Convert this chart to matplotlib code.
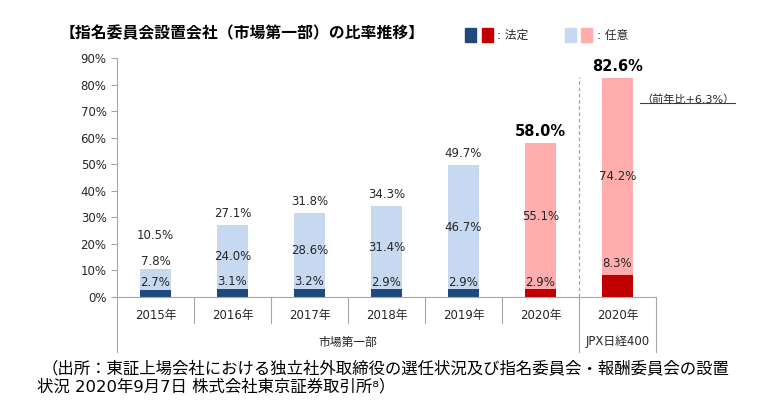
import matplotlib
matplotlib.use('Agg')
import matplotlib.pyplot as plt
from matplotlib.patches import Rectangle
from matplotlib.lines import Line2D
from matplotlib.transforms import blended_transform_factory

plt.rcParams['font.family'] = ['DejaVu Sans', 'Noto Sans CJK JP']

# data
years = ['2015年', '2016年', '2017年', '2018年', '2019年', '2020年', '2020年']
groups = ['市場第一部', 'JPX日経400']
legal = [2.7, 3.1, 3.2, 2.9, 2.9, 2.9, 8.3]
voluntary = [7.8, 24.0, 28.6, 31.4, 46.7, 55.1, 74.2]
totals = [10.5, 27.1, 31.8, 34.3, 49.7, 58.0, 82.6]
yticks = [0, 10, 20, 30, 40, 50, 60, 70, 80, 90]

navy = '#1f497d'
red = '#c00000'
lblue = '#c6d9f1'
pink = '#ffadad'
txt = '#262626'
grid = '#a6a6a6'

legal_cols = [navy] * 5 + [red] * 2
vol_cols = [lblue] * 5 + [pink] * 2

W, H = 777, 412
fig = plt.figure(figsize=(W / 100, H / 100), dpi=100)
ax = fig.add_axes([117 / W, 1 - 297 / H, 539 / W, 239 / H])

x = list(range(len(years)))
ax.bar(x, legal, width=0.40, color=legal_cols, zorder=2)
ax.bar(x, voluntary, width=0.40, bottom=legal, color=vol_cols, zorder=2)

ax.set_xlim(-0.5, 6.5)
ax.set_ylim(0, 90)
ax.set_yticks(yticks)
ax.set_yticklabels([f'{v}%' for v in yticks], fontsize=8.5, color=txt)
ax.set_xticks([])
ax.tick_params(axis='y', length=4, color=grid, width=0.8)
for s in ['top', 'right']:
    ax.spines[s].set_visible(False)
ax.spines['left'].set_color(grid)
ax.spines['bottom'].set_color(grid)
ax.spines['bottom'].set_bounds(-0.55, 6.5)

# value labels
for i in x:
    # legal part
    ly = legal[i] + (4.5 if i == 6 else 2.6)
    ax.text(i, ly, f'{legal[i]:.1f}%', ha='center', va='center',
            fontsize=8.5, color=txt, zorder=3)
    # voluntary part
    vy = 13.2 if i == 0 else legal[i] + voluntary[i] / 2
    ax.text(i, vy, f'{voluntary[i]:.1f}%', ha='center', va='center',
            fontsize=8.5, color=txt, zorder=3)
    # total
    ty = 23.0 if i == 0 else totals[i] + 4.2
    big = i >= 5
    ax.text(i, ty, f'{totals[i]:.1f}%', ha='center', va='center',
            fontsize=10.5 if big else 8.5,
            fontweight='bold' if big else 'normal', color='black' if big else txt)

# dashed separator between groups
ax.plot([5.5, 5.5], [0, 82.8], color=grid, lw=0.9, ls=(0, (3, 2)), zorder=1)

# year-over-year note
ax.text(6.92, 74.5, '（前年比+6.3%）', ha='center', va='center', fontsize=8, color=txt)
ax.plot([6.29, 7.52], [73.1, 73.1], color='#404040', lw=0.8, clip_on=False)

# category table below the axis
tr = blended_transform_factory(ax.transData, fig.transFigure)
y0 = 1 - 297 / H
y_short = 1 - 323 / H
y_long = 1 - 352 / H
for b in [0.5, 1.5, 2.5, 3.5, 4.5]:
    fig.add_artist(Line2D([b, b], [y0, y_short], transform=tr, color=grid, lw=0.8))
for b in [-0.5, 5.5, 6.5]:
    fig.add_artist(Line2D([b, b], [y0, y_long], transform=tr, color=grid, lw=0.8))
for i, yl in enumerate(years):
    fig.text(i, 1 - 315 / H, yl, transform=tr, ha='center', va='center',
             fontsize=8.5, color=txt)
fig.text(2.5, 1 - 342 / H, groups[0], transform=tr, ha='center', va='center',
         fontsize=8.5, color=txt)
fig.text(6, 1 - 342 / H, groups[1], transform=tr, ha='center', va='center',
         fontsize=8.5, color=txt)

# title
fig.text(60 / W, 1 - 33 / H, '【指名委員会設置会社（市場第一部）の比率推移】',
         ha='left', va='center', fontsize=11.4, fontweight='bold', color='black')

# legend
for xl, c in [(465, navy), (482, red), (565, lblue), (581, pink)]:
    fig.add_artist(Rectangle((xl / W, 1 - 42 / H), 11 / W, 14 / H,
                             transform=fig.transFigure, color=c))
fig.text(497 / W, 1 - 35 / H, ': 法定', ha='left', va='center', fontsize=8.5, color=txt)
fig.text(597 / W, 1 - 35 / H, ': 任意', ha='left', va='center', fontsize=8.5, color=txt)

# source note
fig.text(42 / W, 1 - 368 / H,
         '（出所：東証上場会社における独立社外取締役の選任状況及び指名委員会・報酬委員会の設置',
         ha='left', va='center', fontsize=11.8, color='black')
fig.text(37 / W, 1 - 387 / H,
         '状況 2020年9月7日 株式会社東京証券取引所⁸）',
         ha='left', va='center', fontsize=11.8, color='black')

fig.savefig('out.png', dpi=100, facecolor='white')
